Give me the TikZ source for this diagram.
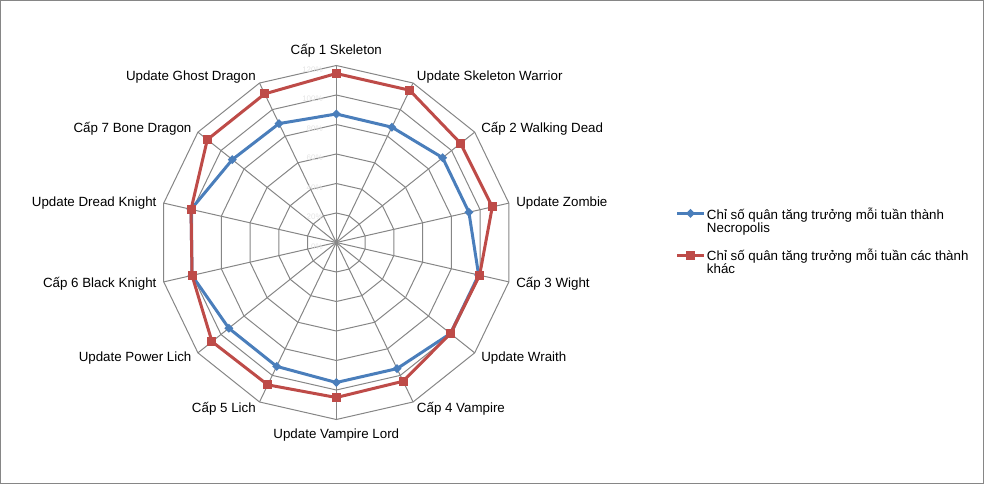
\documentclass[tikz,border=0pt]{standalone}
\usepackage{fontspec}
\setmainfont{Liberation Sans}
\usetikzlibrary{calc}
\definecolor{gridc}{HTML}{868686}
\definecolor{bl}{HTML}{4A7EBB}
\definecolor{rd}{HTML}{BE4B48}
\definecolor{tickc}{HTML}{E4E4E4}
\begin{document}
\begin{tikzpicture}[x=0.75pt,y=-0.75pt,
  font=\fontsize{10}{10}\selectfont,
  gridline/.style={gridc, line width=0.75pt},
  lbl/.style={inner sep=0pt, text=black},
  ticklbl/.style={inner sep=0pt, anchor=east, text=tickc, font=\fontsize{6}{6}\selectfont},
  blueline/.style={bl, line width=2.25pt, line join=round},
  redline/.style={rd, line width=2.25pt, line join=round},
  bluemark/.style={fill=bl, draw=none},
  redmark/.style={fill=rd, draw=none}]
\useasboundingbox (0,0) rectangle (984,485);
\draw[gridline] (0.5,0.5) rectangle (983.2,483.8);
\def\cx{336.3}\def\cy{242.5}
% rings
\foreach \j in {1,...,6}{
  \pgfmathsetmacro\rr{\j*29.5}
  \draw[gridline] ({\cx},{\cy-\rr}) \foreach \k in {1,...,13}{ -- ({\cx+\rr*cos(90-\k*360/14)},{\cy-\rr*sin(90-\k*360/14)}) } -- cycle;
}
% spokes
\coordinate (c) at (\cx,\cy);
\foreach \k in {0,...,13}{
  \coordinate (o\k) at ({\cx+177*cos(90-\k*360/14)},{\cy-177*sin(90-\k*360/14)});
  \draw[gridline] (c) -- (o\k);
}
% tick labels
\foreach \v [count=\j from 0] in {0\%,20\%,40\%,60\%,80\%,100\%,120\%}{
  \node[ticklbl] (t\j) at (323,{\cy-\j*29.5+4}) {\v};
}
% data coordinates
\foreach \r [count=\i from 0] in {128.5,128,136,136,146,146,140,140,137.5,137.5,148,149,133,132}{
  \coordinate (b\i) at ({\cx+\r*cos(90-\i*360/14)},{\cy-\r*sin(90-\i*360/14)});
}
\foreach \r [count=\i from 0] in {169,169,159,160,147,146,154,155,158,159,148,149,165,165}{
  \coordinate (r\i) at ({\cx+\r*cos(90-\i*360/14)},{\cy-\r*sin(90-\i*360/14)});
}
% blue series
\draw[blueline] (b0) -- (b1) -- (b2) -- (b3) -- (b4) -- (b5) -- (b6) -- (b7) -- (b8) -- (b9) -- (b10) -- (b11) -- (b12) -- (b13) -- cycle;
\foreach \i in {0,...,13}{
  \fill[bluemark] ($(b\i)+(0,-4.5)$) -- ($(b\i)+(4.5,0)$) -- ($(b\i)+(0,4.5)$) -- ($(b\i)+(-4.5,0)$) -- cycle;
}
% red series
\draw[redline] (r0) -- (r1) -- (r2) -- (r3) -- (r4) -- (r5) -- (r6) -- (r7) -- (r8) -- (r9) -- (r10) -- (r11) -- (r12) -- (r13) -- cycle;
\foreach \i in {0,...,13}{
  \fill[redmark] ($(r\i)+(-4.5,-4.5)$) rectangle ($(r\i)+(4.5,4.5)$);
}
% axis labels
\node[lbl, anchor=base] (l0) at (336.3,55) {Cấp 1 Skeleton};
\node[lbl, anchor=base west] (l1) at (416.7,80.7) {Update Skeleton Warrior};
\node[lbl, anchor=base west] (l2) at (481,132.7) {Cấp 2 Walking Dead};
\node[lbl, anchor=base west] (l3) at (516,206) {Update Zombie};
\node[lbl, anchor=base west] (l4) at (516,287.3) {Cấp 3 Wight};
\node[lbl, anchor=base west] (l5) at (481,361) {Update Wraith};
\node[lbl, anchor=base west] (l6) at (416.7,412.7) {Cấp 4 Vampire};
\node[lbl, anchor=base] (l7) at (336.3,438.3) {Update Vampire Lord};
\node[lbl, anchor=base east] (l8) at (256,412.7) {Cấp 5 Lich};
\node[lbl, anchor=base east] (l9) at (191.7,361) {Update Power Lich};
\node[lbl, anchor=base east] (l10) at (156.7,287.3) {Cấp 6 Black Knight};
\node[lbl, anchor=base east] (l11) at (156.7,206) {Update Dread Knight};
\node[lbl, anchor=base east] (l12) at (191.7,132.7) {Cấp 7 Bone Dragon};
\node[lbl, anchor=base east] (l13) at (256,80.7) {Update Ghost Dragon};
% legend
\coordinate (lb1) at (677,213.3);
\coordinate (lb2) at (704,213.3);
\coordinate (lbm) at (690.5,213.3);
\draw[blueline] (lb1) -- (lb2);
\fill[bluemark] ($(lbm)+(0,-4.5)$) -- ($(lbm)+(4.5,0)$) -- ($(lbm)+(0,4.5)$) -- ($(lbm)+(-4.5,0)$) -- cycle;
\node[lbl, anchor=base west] (leg1a) at (706.7,219) {Chỉ số quân tăng trưởng mỗi tuần thành};
\node[lbl, anchor=base west] (leg1b) at (706.7,232.3) {Necropolis};
\coordinate (lr1) at (677,255);
\coordinate (lr2) at (704,255);
\coordinate (lrm) at (690.5,255);
\draw[redline] (lr1) -- (lr2);
\fill[redmark] ($(lrm)+(-4.5,-4.5)$) rectangle ($(lrm)+(4.5,4.5)$);
\node[lbl, anchor=base west] (leg2a) at (706.7,260) {Chỉ số quân tăng trưởng mỗi tuần các thành};
\node[lbl, anchor=base west] (leg2b) at (706.7,273.3) {khác};
\end{tikzpicture}
\end{document}
